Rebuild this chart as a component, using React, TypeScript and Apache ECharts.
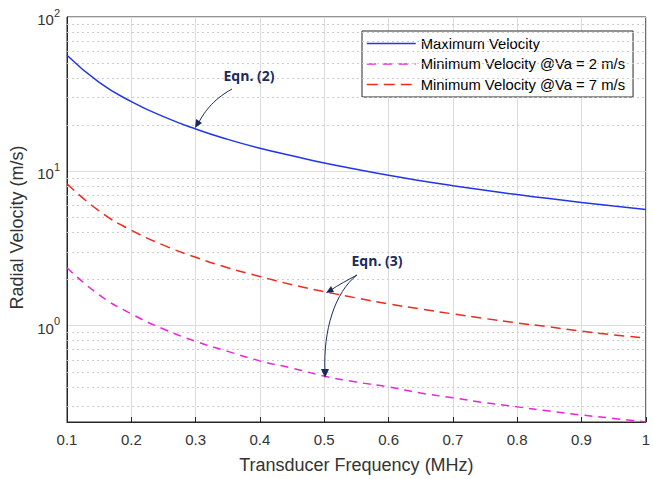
import React, { useEffect, useRef } from "react";
import * as echarts from "echarts";

const freq = [0.1, 0.15, 0.2, 0.25, 0.3, 0.35, 0.4, 0.45, 0.5, 0.55, 0.6, 0.65, 0.7, 0.75, 0.8, 0.85, 0.9, 0.95, 1.0];
const maxVel = [56.5, 37.7, 28.3, 22.6, 18.8, 16.1, 14.1, 12.6, 11.3, 10.3, 9.42, 8.69, 8.07, 7.53, 7.06, 6.65, 6.28, 5.95, 5.65];
const minVelVa2 = [2.37, 1.58, 1.19, 0.95, 0.79, 0.68, 0.59, 0.53, 0.47, 0.43, 0.40, 0.365, 0.34, 0.316, 0.297, 0.279, 0.263, 0.25, 0.237];
const minVelVa7 = [8.3, 5.53, 4.15, 3.32, 2.77, 2.37, 2.08, 1.84, 1.66, 1.51, 1.38, 1.28, 1.19, 1.11, 1.04, 0.98, 0.92, 0.87, 0.83];
const seriesNames = ["Maximum Velocity", "Minimum Velocity @Va = 2 m/s", "Minimum Velocity @Va = 7 m/s"];
const minorGrid = [0.3, 0.4, 0.5, 0.6, 0.7, 0.8, 0.9, 2, 3, 4, 5, 6, 7, 8, 9, 20, 30, 40, 50, 60, 70, 80, 90];
const yMin = 0.237;
const yMax = 100;

const pairs = (ys: number[]) => freq.map((f, i) => [f, ys[i]]);

export default function App() {
  const ref = useRef<HTMLDivElement>(null);
  useEffect(() => {
    if (!ref.current) return;
    const chart = echarts.init(ref.current, undefined, { renderer: "svg" });
    const font = "Liberation Sans, Arial, sans-serif";
    const navy = "#1b2a5c";
    const axisColor = "#333333";
    const blue = "#2236e8";
    const magenta = "#ee22dd";
    const red = "#f0281e";
    chart.setOption({
      animation: false,
      textStyle: { fontFamily: font },
      grid: { left: 67, right: 5, top: 17, bottom: 56, show: true, borderColor: "#262626", borderWidth: 1, backgroundColor: "transparent" },
      legend: {
        orient: "vertical",
        left: 362,
        top: 31,
        backgroundColor: "#fff",
        borderColor: "#262626",
        borderWidth: 1,
        borderRadius: 0,
        padding: [5, 8, 5, 4],
        itemWidth: 49,
        itemHeight: 15,
        itemGap: 5.5,
        itemStyle: { opacity: 0, borderWidth: 0 },
        textStyle: { fontSize: 14.8, color: "#000", fontFamily: font },
        data: [
          { name: seriesNames[0], lineStyle: { color: blue, width: 1.5, type: "solid" } },
          { name: seriesNames[1], lineStyle: { color: magenta, width: 1.5, type: [9, 7] } },
          { name: seriesNames[2], lineStyle: { color: red, width: 1.5, type: [11, 6] } },
        ],
      },
      xAxis: {
        type: "value",
        min: 0.1,
        max: 1,
        interval: 0.1,
        name: "Transducer Frequency (MHz)",
        nameLocation: "middle",
        nameGap: 34,
        nameTextStyle: { fontSize: 18, color: axisColor },
        axisLine: { show: true, lineStyle: { color: "#262626" } },
        axisTick: { show: true, inside: true, length: 5, lineStyle: { color: "#262626" } },
        axisLabel: { fontSize: 15, color: axisColor, margin: 10, formatter: (v: number) => String(Math.round(v * 10) / 10) },
        splitLine: { show: true, lineStyle: { color: "#dcdcdc", width: 1 } },
      },
      yAxis: {
        type: "log",
        logBase: 10,
        min: yMin,
        max: yMax,
        name: "Radial Velocity (m/s)",
        nameLocation: "middle",
        nameGap: 38,
        nameTextStyle: { fontSize: 18, color: axisColor, padding: [0, 16, 0, 0] },
        axisLine: { show: true, lineStyle: { color: "#262626" } },
        axisTick: { show: false },
        axisLabel: {
          margin: 7,
          color: axisColor,
          formatter: (v: number) => {
            const e = Math.log10(v);
            if (Math.abs(e - Math.round(e)) > 1e-6) return "";
            return `{b|10}{s|${Math.round(e)}}`;
          },
          rich: {
            b: { fontSize: 15, color: axisColor, lineHeight: 20, verticalAlign: "bottom" },
            s: { fontSize: 11, color: axisColor, lineHeight: 20, verticalAlign: "top", padding: [0, 0, 9, 0] },
          },
        },
        splitLine: { show: true, lineStyle: { color: "#dcdcdc", width: 1 } },
      },
      series: [
        {
          name: "minor",
          type: "line",
          data: [],
          silent: true,
          markLine: {
            silent: true,
            symbol: "none",
            label: { show: false },
            lineStyle: { color: "#cccccc", type: [2, 3], width: 1 },
            data: minorGrid.map((v) => ({ yAxis: v })),
          },
        },
        {
          name: seriesNames[0],
          type: "line",
          data: pairs(maxVel),
          smooth: true,
          symbol: "none",
          lineStyle: { color: blue, width: 1.5, type: "solid" },
          itemStyle: { color: blue },
          z: 5,
        },
        {
          name: seriesNames[1],
          type: "line",
          data: pairs(minVelVa2),
          smooth: true,
          symbol: "none",
          lineStyle: { color: magenta, width: 1.5, type: [8, 6] },
          itemStyle: { color: magenta },
          z: 5,
        },
        {
          name: seriesNames[2],
          type: "line",
          data: pairs(minVelVa7),
          smooth: true,
          symbol: "none",
          lineStyle: { color: red, width: 1.5, type: [10, 6] },
          itemStyle: { color: red },
          z: 5,
        },
      ],
      graphic: [
        { type: "text", x: 249, y: 75, style: { text: "Eqn. (2)", font: "bold 14px 'Open Sans', sans-serif", fill: navy, textAlign: "center", textVerticalAlign: "middle" }, z: 10 },
        { type: "bezierCurve", shape: { x1: 232, y1: 89, x2: 198, y2: 124, cpx1: 212, cpy1: 100, cpx2: 203, cpy2: 114 }, style: { stroke: navy, lineWidth: 1, fill: "none" }, z: 10 },
        { type: "polygon", shape: { points: [[195, 128], [196, 119], [202, 123]] }, style: { fill: navy }, z: 10 },
        { type: "text", x: 377, y: 260, style: { text: "Eqn. (3)", font: "bold 14px 'Open Sans', sans-serif", fill: navy, textAlign: "center", textVerticalAlign: "middle" }, z: 10 },
        { type: "bezierCurve", shape: { x1: 357, y1: 275, x2: 331, y2: 290, cpx1: 348, cpy1: 280, cpx2: 338, cpy2: 285 }, style: { stroke: navy, lineWidth: 1, fill: "none" }, z: 10 },
        { type: "polygon", shape: { points: [[326, 293], [331, 286], [334, 292]] }, style: { fill: navy }, z: 10 },
        { type: "bezierCurve", shape: { x1: 357, y1: 275, x2: 325, y2: 372, cpx1: 335, cpy1: 292, cpx2: 323, cpy2: 330 }, style: { stroke: navy, lineWidth: 1, fill: "none" }, z: 10 },
        { type: "polygon", shape: { points: [[325, 378], [321, 369], [329, 369]] }, style: { fill: navy }, z: 10 },
      ],
    });
    return () => chart.dispose();
  }, []);
  return <div ref={ref} style={{ width: 653, height: 479, position: "absolute", left: 0, top: 0, background: "#fff" }} />;
}
